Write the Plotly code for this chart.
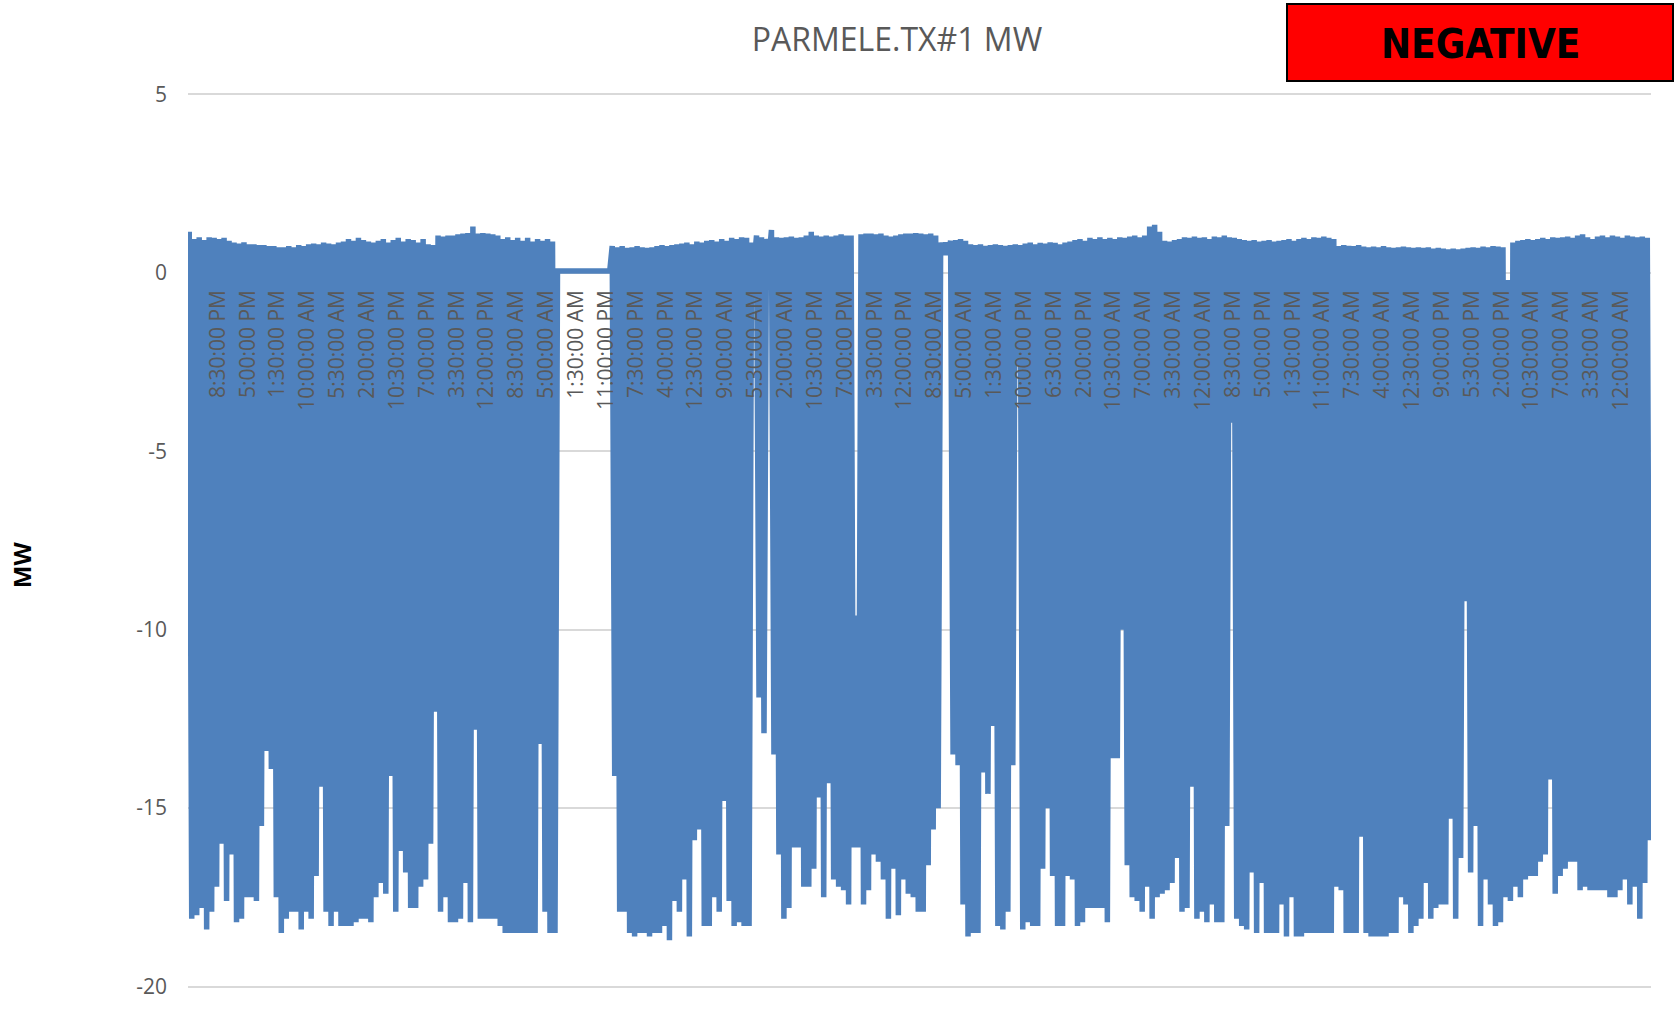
import plotly.graph_objects as go

# ---------------- text ----------------
title_text = "PARMELE.TX#1 MW"
y_axis_title = "MW"
badge_text = "NEGATIVE"

# ---------------- category (time) labels shown on the x axis ----------------
tick_labels = [
    "8:30:00 PM", "5:00:00 PM", "1:30:00 PM", "10:00:00 AM", "5:30:00 AM", "2:00:00 AM",
    "10:30:00 PM", "7:00:00 PM", "3:30:00 PM", "12:00:00 PM", "8:30:00 AM", "5:00:00 AM",
    "1:30:00 AM", "11:00:00 PM", "7:30:00 PM", "4:00:00 PM", "12:30:00 PM", "9:00:00 AM",
    "5:30:00 AM", "2:00:00 AM", "10:30:00 PM", "7:00:00 PM", "3:30:00 PM", "12:00:00 PM",
    "8:30:00 AM", "5:00:00 AM", "1:30:00 AM", "10:00:00 PM", "6:30:00 PM", "2:00:00 PM",
    "10:30:00 AM", "7:00:00 AM", "3:30:00 AM", "12:00:00 AM", "8:30:00 PM", "5:00:00 PM",
    "1:30:00 PM", "11:00:00 AM", "7:30:00 AM", "4:00:00 AM", "12:30:00 AM", "9:00:00 PM",
    "5:30:00 PM", "2:00:00 PM", "10:30:00 AM", "7:00:00 AM", "3:30:00 AM", "12:00:00 AM",
]

y_tick_values = [5, 0, -5, -10, -15, -20]
y_tick_text = ["5", "0", "-5", "-10", "-15", "-20"]

# ---------------- series values (MW) ----------------
# the series swings between a high and a low reading; these are the successive highs and lows
peaks = [
    1.15, 0.95, 1.0, 0.92, 1.0, 0.98, 0.95, 0.98, 0.9, 0.85,
    0.82, 0.86, 0.8, 0.8, 0.78, 0.78, 0.75, 0.75, 0.72, 0.72,
    0.75, 0.72, 0.78, 0.75, 0.8, 0.82, 0.8, 0.85, 0.82, 0.8,
    0.85, 0.88, 0.95, 0.9, 0.98, 0.92, 0.88, 0.85, 0.9, 0.95,
    0.85, 0.92, 0.98, 0.88, 0.95, 0.92, 0.85, 0.95, 0.8, 0.78,
    1.05, 1.02, 1.05, 1.05, 1.08, 1.1, 1.12, 1.3, 1.1, 1.12,
    1.1, 1.08, 1.05, 0.95, 1.0, 0.92, 0.98, 0.9, 0.98, 0.88,
    0.95, 0.9, 0.95, 0.88,
    0.05, 0.05, 0.05, 0.05, 0.05, 0.05, 0.05, 0.05, 0.05, 0.05, 0.05,
    0.75, 0.72, 0.75, 0.7, 0.72, 0.75, 0.72, 0.7, 0.72, 0.75, 0.78, 0.75, 0.78,
    0.8, 0.82, 0.85, 0.8, 0.88, 0.85, 0.9, 0.92, 0.88, 0.95, 0.9, 0.98, 0.95, 1.0, 0.98,
    0.85,
    1.05, 1.0, 0.95, 1.2,
    1.0, 0.98, 1.0, 1.02, 0.98, 1.0, 1.05, 1.15, 1.05, 1.02, 1.05, 1.02, 1.05, 1.08, 1.05, 1.05,
    -9.6,
    1.08, 1.1, 1.1, 1.08, 1.1, 1.05, 1.02, 1.05, 1.08, 1.1, 1.1, 1.12, 1.1, 1.08, 1.1, 1.05,
    0.85, 0.85,
    0.9, 0.92, 0.95, 0.9,
    0.8, 0.78, 0.8, 0.76, 0.78, 0.8, 0.78, 0.76, 0.78, 0.8, 0.78,
    0.82, 0.85, 0.8, 0.84, 0.82, 0.86, 0.84, 0.8, 0.85, 0.88,
    0.92, 0.95, 0.9, 0.98, 0.95, 1.0, 0.95, 0.98, 0.95, 1.0, 0.98,
    1.02, 1.05, 1.0, 1.05,
    1.3, 1.35, 1.15,
    0.9,
    0.88, 0.92, 0.95, 1.0, 0.98, 1.02, 0.98, 1.0, 0.95, 1.02,
    1.0, 1.05, 1.0, 0.98, 0.95, 0.92, 0.9, 0.92, 0.88, 0.9,
    0.92, 0.88, 0.9, 0.92, 0.95, 0.9, 0.95, 0.98, 0.95, 1.0,
    0.98, 1.02, 0.98, 0.95,
    0.75, 0.78, 0.76, 0.75, 0.78, 0.74, 0.72, 0.74, 0.72, 0.75,
    0.72, 0.7, 0.72, 0.74, 0.72, 0.7, 0.72, 0.7, 0.72, 0.68,
    0.7, 0.68, 0.66, 0.68, 0.66, 0.68, 0.7, 0.72, 0.7, 0.74,
    0.72, 0.75, 0.74, 0.72,
    -0.2,
    0.85, 0.9, 0.92, 0.95, 0.92, 0.95, 0.98, 0.95, 1.0, 0.98,
    1.0, 1.02, 0.98, 1.05, 1.08, 1.0, 0.95, 1.02, 1.05, 1.0,
    1.05, 1.02, 0.98, 1.05, 1.02, 1.0, 1.02, 0.98,
]

troughs = [
    -18.1, -18.0, -17.8, -18.4, -17.9, -17.2, -16.0, -17.6, -16.3, -18.2,
    -18.1, -17.5, -17.5, -17.6, -15.5, -13.4, -13.9, -17.5, -18.5, -18.1,
    -17.9, -17.9, -18.4, -17.9, -18.1, -16.9, -14.4, -17.9, -18.3, -17.9,
    -18.3, -18.3, -18.3, -18.2, -18.1, -18.1, -18.2, -17.5, -17.1, -17.4,
    -14.1, -17.9, -16.2, -16.8, -17.8, -17.8, -17.2, -17.0, -16.0, -12.3,
    -17.9, -17.5, -18.2, -18.2, -18.1, -17.1, -18.2, -12.8, -18.1, -18.1,
    -18.1, -18.1, -18.3, -18.5, -18.5, -18.5, -18.5, -18.5, -18.5, -18.5,
    -13.2, -17.9, -18.5, -18.5, 0.05, 0.05, 0.05, 0.05, 0.05, 0.05,
    0.05, 0.05, 0.05, 0.05, 0.05, -14.1, -17.9, -17.9, -18.5, -18.6,
    -18.5, -18.5, -18.6, -18.5, -18.5, -18.3, -18.7, -17.6, -17.9, -17.0,
    -18.6, -15.9, -15.6, -18.3, -18.3, -17.5, -17.9, -14.8, -17.6, -18.3,
    -18.2, -18.3, -18.3, 0.25, -11.9, -12.9, 0.4, -13.5, -16.3, -18.1,
    -17.8, -16.1, -16.1, -17.2, -17.2, -16.7, -14.7, -17.5, -14.3, -17.0,
    -17.2, -17.3, -17.7, -16.1, -16.1, -17.7, -17.3, -16.3, -16.5, -17.0,
    -18.1, -16.7, -18.0, -17.0, -17.4, -17.5, -17.9, -17.9, -16.6, -15.6,
    -15.0, 0.5, 0.5, -13.5, -13.8, -17.7, -18.6, -18.5, -18.5, -14.0,
    -14.6, -12.7, -18.3, -18.4, -17.9, -13.8, -2.6, -18.4, -18.2, -18.3,
    -18.3, -16.7, -15.0, -16.9, -18.3, -18.3, -16.9, -17.0, -18.3, -18.2,
    -17.8, -17.8, -17.8, -17.8, -18.2, -13.6, -13.6, -10.0, -16.6, -17.5,
    -17.6, -17.9, -17.2, -18.1, -17.5, -17.4, -17.3, -17.1, -16.4, -17.9,
    -17.8, -14.4, -18.1, -17.9, -18.2, -17.7, -18.2, -18.2, -15.5, -4.2,
    -18.1, -18.3, -18.4, -16.8, -18.5, -17.1, -18.5, -18.5, -18.5, -17.7,
    -18.6, -17.5, -18.6, -18.6, -18.5, -18.5, -18.5, -18.5, -18.5, -18.5,
    -17.2, -17.3, -18.5, -18.5, -18.5, -15.8, -18.5, -18.6, -18.6, -18.6,
    -18.6, -18.5, -18.5, -17.5, -17.7, -18.5, -18.3, -18.1, -17.1, -18.1,
    -17.8, -17.7, -17.7, -15.3, -18.1, -16.4, -9.2, -16.8, -15.5, -18.3,
    -17.0, -17.7, -18.3, -18.2, -17.5, -17.6, -17.2, -17.5, -17.0, -16.9,
    -16.9, -16.5, -16.3, -14.2, -17.4, -16.9, -16.7, -16.5, -16.5, -17.3,
    -17.2, -17.3, -17.3, -17.3, -17.3, -17.5, -17.5, -17.3, -17.0, -17.7,
    -17.2, -18.1, -17.1, -15.9,
]

assert len(peaks) == len(troughs), (len(peaks), len(troughs))

# successive readings: high, low, high, low ...
mw = []
for hi, lo in zip(peaks, troughs):
    mw.append(hi)
    mw.append(lo)
idx = list(range(len(mw)))

label_step = len(mw) // (len(tick_labels) + 1)
tick_pos = [label_step * (k + 1) - 0.5 for k in range(len(tick_labels))]

GREY = "#595959"
FONT = "Open Sans, Calibri, Arial, sans-serif"

fig = go.Figure()
fig.add_trace(go.Scatter(
    x=idx, y=mw, mode="lines",
    line=dict(color="#4F81BD", width=5.5),
    hoverinfo="skip", showlegend=False,
))

y_min, y_max = -20.04, 5.04
zero_frac = (0 - y_min) / (y_max - y_min)

fig.update_layout(
    width=1676, height=1012,
    margin=dict(l=188, r=25, t=93, b=13),
    paper_bgcolor="white", plot_bgcolor="white",
    font=dict(family=FONT, color=GREY),
    title=dict(
        text=title_text, font=dict(family=FONT, size=32, color=GREY),
        x=0.4846, xref="paper", xanchor="center",
        y=1 - 40 / 1012, yref="container", yanchor="middle",
    ),
    xaxis=dict(
        range=[-0.5, len(mw) - 0.5],
        tickmode="array", tickvals=tick_pos, ticktext=tick_labels,
        tickangle=-90, tickfont=dict(family=FONT, size=21, color=GREY),
        showgrid=False, zeroline=False, showline=False,
        ticks="", ticklabelstandoff=12,
        anchor="free", position=zero_frac,
    ),
    yaxis=dict(
        range=[y_min, y_max],
        tickmode="array", tickvals=y_tick_values, ticktext=y_tick_text,
        tickfont=dict(family=FONT, size=21, color=GREY),
        showgrid=True, gridcolor="#D9D9D9", gridwidth=1.5,
        zeroline=False, showline=False, ticks="", ticklabelstandoff=20,
    ),
    shapes=[dict(
        type="rect", xref="paper", yref="paper",
        x0=(1287 - 188) / 1463, x1=(1673 - 188) / 1463,
        y0=(998 - 82) / 904, y1=(998 - 4) / 904,
        fillcolor="#FF0000", line=dict(color="black", width=2), layer="above",
    )],
    annotations=[
        dict(
            text=f"<b>{badge_text}</b>", xref="paper", yref="paper",
            x=(1480 - 188) / 1463, y=(998 - 45) / 904,
            xanchor="center", yanchor="middle", showarrow=False,
            font=dict(family="Liberation Sans Narrow, Arial Narrow, DejaVu Sans Condensed, sans-serif",
                      size=40, color="black"),
        ),
        dict(
            text=f"<b>{y_axis_title}</b>", xref="paper", yref="paper",
            x=(21 - 188) / 1463, y=(998 - 571) / 904,
            xanchor="center", yanchor="middle", showarrow=False, textangle=-90,
            font=dict(family=FONT, size=24, color="black"),
        ),
    ],
)

fig.write_html("out.html", config={"displayModeBar": False},
               post_script="document.body.style.margin='0';")
